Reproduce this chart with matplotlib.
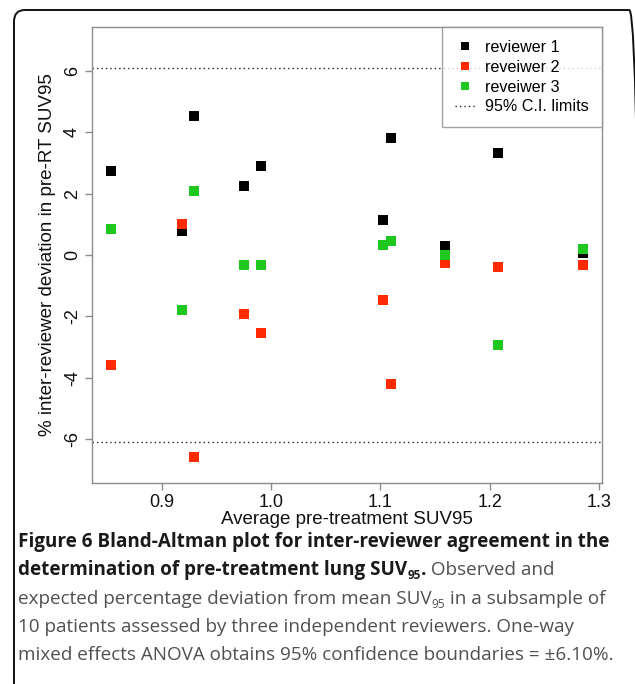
import numpy as np
import matplotlib
matplotlib.use("Agg")
import matplotlib.pyplot as plt
from matplotlib.patches import FancyBboxPatch

# Average pre-treatment SUV95 for the 10 patients
avg_suv = [0.853, 0.9185, 0.929, 0.975, 0.991, 1.102, 1.110, 1.1586, 1.2075, 1.2854]

# % deviation per reviewer
reviewer1 = [2.73, 0.78, 4.54, 2.24, 2.90, 1.14, 3.80, 0.28, 3.34, 0.06]
reviewer2 = [-3.57, 1.00, -6.58, -1.91, -2.53, -1.47, -4.20, -0.26, -0.38, -0.34]
reviewer3 = [0.86, -1.79, 2.08, -0.31, -0.34, 0.33, 0.44, 0.01, -2.92, 0.21]

ci_limit = 6.1
series_labels = ["reviewer 1", "reveiwer 2", "reveiwer 3"]
series_colors = ["#000000", "#ff2a00", "#1ec81e"]
x_ticks = [0.9, 1.0, 1.1, 1.2, 1.3]
y_ticks = [-6, -4, -2, 0, 2, 4, 6]

plt.rcParams["font.family"] = ["Liberation Sans", "DejaVu Sans"]

W, H = 635, 684
fig = plt.figure(figsize=(W / 100, H / 100), dpi=100)

# rounded frame around the whole figure (right and bottom run off the image)
frame = FancyBboxPatch((14 / W, -0.05), (640 - 14) / W, 1 - 10 / H + 0.05,
                       boxstyle="round,pad=0,rounding_size=0.017",
                       transform=fig.transFigure, fill=False,
                       edgecolor="#111111", linewidth=1.4, clip_on=False)
fig.patches.append(frame)

ax = fig.add_axes([92 / W, 1 - 483 / H, (602 - 92) / W, (483 - 27) / H])

handles = []
for vals, lab, col in zip([reviewer1, reviewer2, reviewer3], series_labels, series_colors):
    h, = ax.plot(avg_suv, vals, linestyle="none", marker="s", markersize=7.3,
                 color=col, markeredgewidth=0, label=lab)
    handles.append(h)

ci = ax.axhline(ci_limit, color="#222222", linestyle=(0, (1, 2.2)), linewidth=1.0,
                label="95% C.I. limits")
ax.axhline(-ci_limit, color="#222222", linestyle=(0, (1, 2.2)), linewidth=1.0)

ax.set_xlim(0.836, 1.3027)
ax.set_ylim(-7.43, 7.43)
ax.set_xticks(x_ticks)
ax.set_xticklabels([f"{t:.1f}" for t in x_ticks])
ax.set_yticks(y_ticks)
ax.set_yticklabels([str(t) for t in y_ticks], rotation=90, va="center")

for s in ax.spines.values():
    s.set_color("#8c8c8c")
    s.set_linewidth(1.0)
ax.tick_params(colors="#8c8c8c", labelcolor="#111111", labelsize=13,
               length=5, width=1.0)
ax.tick_params(axis="x", pad=3)
ax.tick_params(axis="y", pad=3)

ax.set_xlabel("Average pre-treatment SUV95", fontsize=13.5, labelpad=0, color="#111111")
ax.set_ylabel("% inter-reviewer deviation in pre-RT SUV95", fontsize=13.5,
              labelpad=6, color="#111111")

leg = ax.legend(handles=handles + [ci], loc="upper right", fontsize=11.6,
                frameon=True, fancybox=False, borderaxespad=0,
                handlelength=1.3, handletextpad=0.6, labelspacing=0.3,
                borderpad=0.8, markerscale=0.75)
leg.get_frame().set_edgecolor("#8c8c8c")
leg.get_frame().set_linewidth(1.0)

# caption with mixed bold / regular runs and subscripts
cap_family = ["Open Sans", "DejaVu Sans"]
cap_size = 13.6
bold_col = "#1a1a1a"
reg_col = "#505050"
lines = [
    [("Figure 6 Bland-Altman plot for inter-reviewer agreement in the", "bold", False)],
    [("determination of pre-treatment lung SUV", "bold", False), ("95", "bold", True),
     (".", "bold", False), (" Observed and", "normal", False)],
    [("expected percentage deviation from mean SUV", "normal", False), ("95", "normal", True),
     (" in a subsample of", "normal", False)],
    [("10 patients assessed by three independent reviewers. One-way", "normal", False)],
    [("mixed effects ANOVA obtains 95% confidence boundaries = \u00b16.10%.", "normal", False)],
]
fig.canvas.draw()
renderer = fig.canvas.get_renderer()
y0 = 547
for i, runs in enumerate(lines):
    x = 18
    yb = y0 + i * 28.3
    for txt, weight, sub in runs:
        size = cap_size * 0.62 if sub else cap_size
        dy = 4 if sub else 0
        t = fig.text(x / W, 1 - (yb + dy) / H, txt, fontsize=size, fontweight=weight,
                     family=cap_family, color=bold_col if weight == "bold" else reg_col,
                     va="baseline", ha="left")
        bb = t.get_window_extent(renderer=renderer)
        x += bb.width

fig.savefig("out.png", dpi=100)
